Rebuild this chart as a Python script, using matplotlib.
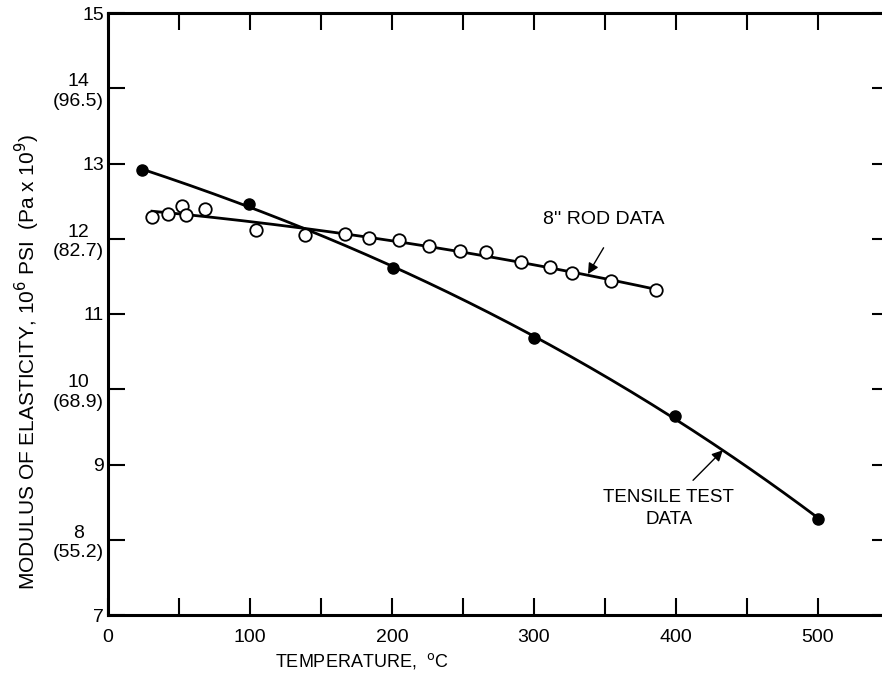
import numpy as np
import matplotlib
matplotlib.use("Agg")
import matplotlib.pyplot as plt

plt.rcParams['font.family'] = ['Liberation Sans', 'DejaVu Sans']

# Tensile test data (filled markers)
tensile_temp = [24, 99, 201, 300, 399, 500]
tensile_mod = [12.91, 12.46, 11.61, 10.68, 9.64, 8.28]

# 8" rod data (open markers)
rod_temp = [31, 42, 52, 55, 68, 104, 139, 167, 184, 205, 226, 248, 266, 291, 311, 327, 354, 386]
rod_mod = [12.29, 12.33, 12.44, 12.32, 12.40, 12.12, 12.05, 12.06, 12.01, 11.98,
           11.91, 11.84, 11.82, 11.69, 11.62, 11.54, 11.44, 11.32]

y_ticks = [7, 8, 9, 10, 11, 12, 13, 14, 15]
y_labels = ["7", "8\n(55.2)", "9", "10\n(68.9)", "11", "12\n(82.7)", "13", "14\n(96.5)", "15"]
x_ticks = [0, 100, 200, 300, 400, 500]

fig = plt.figure(figsize=(8.82, 6.81), dpi=100)
ax = fig.add_axes([108 / 882, 66 / 681, 781 / 882, 602 / 681])

# smooth fitted curves through the data
c_t = np.polyfit(tensile_temp, tensile_mod, 3)
xt = np.linspace(tensile_temp[0], tensile_temp[-1], 200)
ax.plot(xt, np.polyval(c_t, xt), color='black', lw=2)
c_r = np.polyfit(rod_temp, rod_mod, 2)
xr = np.linspace(rod_temp[0], rod_temp[-1], 200)
ax.plot(xr, np.polyval(c_r, xr), color='black', lw=2)

ax.plot(tensile_temp, tensile_mod, 'o', color='black', markersize=8, zorder=3)
ax.plot(rod_temp, rod_mod, 'o', markerfacecolor='white', markeredgecolor='black',
        markersize=9, markeredgewidth=1.3, zorder=3)

ax.set_xlim(0, 550)
ax.set_ylim(7, 15)
ax.set_xticks(np.arange(0, 551, 50))
ax.set_xticklabels([str(v) if v in x_ticks else "" for v in range(0, 551, 50)])
ax.set_yticks(y_ticks)
ax.set_yticklabels(y_labels, multialignment='center')
ax.tick_params(direction='in', length=12, width=1.5, top=True, right=True,
               labelsize=14, pad=3)
ax.tick_params(axis='x', pad=10)
for s in ax.spines.values():
    s.set_linewidth(2.2)

ax.set_xlabel("TEMPERATURE,  $^{\\mathrm{o}}$C", fontsize=13)
ax.xaxis.set_label_coords(179 / 550, -0.06)
ax.set_ylabel("MODULUS OF ELASTICITY, 10$^6$ PSI  (Pa x 10$^9$)", fontsize=15)
ax.yaxis.set_label_coords(-0.085, 0.42)

# annotations
arrow = dict(arrowstyle='-|>', color='black', lw=1, shrinkA=0, shrinkB=0, mutation_scale=16)
ax.text(349, 12.25, "8'' ROD DATA", fontsize=14, ha='center', va='center')
ax.annotate("", xy=(338, 11.53), xytext=(349, 11.88), arrowprops=arrow)
ax.text(395, 8.41, "TENSILE TEST\nDATA", fontsize=13.5, ha='center', va='center',
        multialignment='center', linespacing=1.4)
ax.annotate("", xy=(433, 9.19), xytext=(412, 8.79), arrowprops=arrow)

fig.savefig("out.png", dpi=100)
